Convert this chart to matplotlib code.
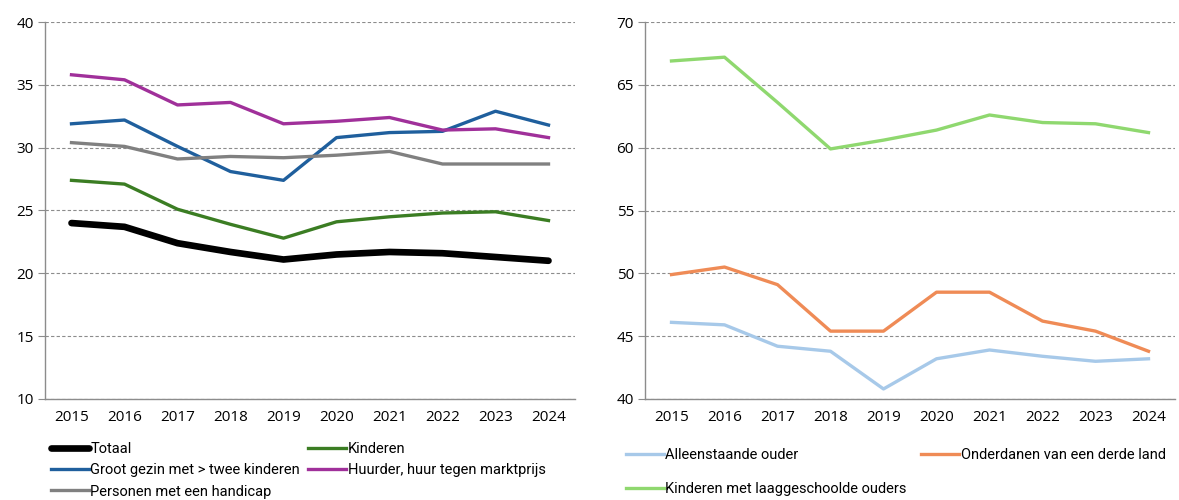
import matplotlib.pyplot as plt

plt.rcParams['font.family'] = ['Open Sans', 'DejaVu Sans']

years = [2015, 2016, 2017, 2018, 2019, 2020, 2021, 2022, 2023, 2024]

totaal = [24.0, 23.7, 22.4, 21.7, 21.1, 21.5, 21.7, 21.6, 21.3, 21.0]
kinderen = [27.4, 27.1, 25.1, 23.9, 22.8, 24.1, 24.5, 24.8, 24.9, 24.2]
groot_gezin = [31.9, 32.2, 30.1, 28.1, 27.4, 30.8, 31.2, 31.3, 32.9, 31.8]
huurder = [35.8, 35.4, 33.4, 33.6, 31.9, 32.1, 32.4, 31.4, 31.5, 30.8]
handicap = [30.4, 30.1, 29.1, 29.3, 29.2, 29.4, 29.7, 28.7, 28.7, 28.7]

alleenstaande = [46.1, 45.9, 44.2, 43.8, 40.8, 43.2, 43.9, 43.4, 43.0, 43.2]
onderdanen = [49.9, 50.5, 49.1, 45.4, 45.4, 48.5, 48.5, 46.2, 45.4, 43.8]
laaggeschoold = [66.9, 67.2, 63.6, 59.9, 60.6, 61.4, 62.6, 62.0, 61.9, 61.2]

fig = plt.figure(figsize=(11.79, 5.0), dpi=100)
ax1 = fig.add_axes([45 / 1179, 101 / 500, 530 / 1179, 377 / 500])
ax2 = fig.add_axes([645 / 1179, 101 / 500, 530 / 1179, 377 / 500])

x = list(range(len(years)))


def style(ax, lo, hi):
    ax.set_ylim(lo, hi)
    ax.set_yticks(range(lo, hi + 1, 5))
    ax.set_xlim(-0.5, len(years) - 0.5)
    ax.set_xticks(x)
    ax.set_xticklabels([str(y) for y in years])
    for s in ['top', 'right']:
        ax.spines[s].set_visible(False)
    for s in ['left', 'bottom']:
        ax.spines[s].set_color('#8c8c8c')
        ax.spines[s].set_linewidth(1)
    ax.yaxis.grid(True, color='#8c8c8c', linestyle=(0, (3, 2)), linewidth=0.8)
    ax.set_axisbelow(True)
    ax.tick_params(axis='x', length=0, pad=8, labelsize=11)
    ax.tick_params(axis='y', length=5, color='#8c8c8c', pad=3, labelsize=11)


style(ax1, 10, 40)
style(ax2, 40, 70)

l_tot, = ax1.plot(x, totaal, color='black', lw=4.8, solid_capstyle='round', label='Totaal')
l_kin, = ax1.plot(x, kinderen, color='#3b7d23', lw=2.4, label='Kinderen')
l_gro, = ax1.plot(x, groot_gezin, color='#1f5f9d', lw=2.4, label='Groot gezin met > twee kinderen')
l_huu, = ax1.plot(x, huurder, color='#a0309a', lw=2.4, label='Huurder, huur tegen marktprijs')
l_han, = ax1.plot(x, handicap, color='#808080', lw=2.4, label='Personen met een handicap')

r_all, = ax2.plot(x, alleenstaande, color='#a7c9e9', lw=2.4, label='Alleenstaande ouder')
r_ond, = ax2.plot(x, onderdanen, color='#ef8b56', lw=2.4, label='Onderdanen van een derde land')
r_laa, = ax2.plot(x, laaggeschoold, color='#8fd86f', lw=2.4, label='Kinderen met laaggeschoolde ouders')

leg_font = {'family': ['Roboto', 'DejaVu Sans'], 'size': 10.5}

fig.legend(handles=[l_tot, l_gro, l_han, l_kin, l_huu], loc='upper left',
           bbox_to_anchor=(51 / 1179, 1 - 442 / 500), ncol=2, frameon=False,
           prop=leg_font, handlelength=2.6, handletextpad=0.1,
           columnspacing=0.55, labelspacing=0.5, borderaxespad=0, borderpad=0)
fig.legend(handles=[r_all, r_laa, r_ond], loc='upper left',
           bbox_to_anchor=(626 / 1179, 1 - 448 / 500), ncol=2, frameon=False,
           prop=leg_font, handlelength=2.6, handletextpad=0.1,
           columnspacing=1.0, labelspacing=1.35, borderaxespad=0, borderpad=0)

fig.savefig('out.png', dpi=100)
